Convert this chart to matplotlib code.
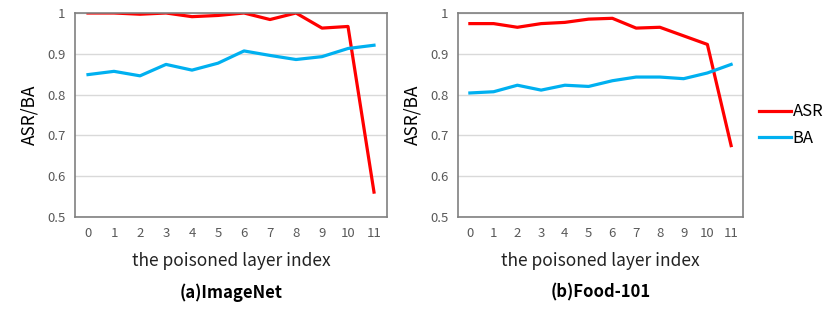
import numpy as np
import matplotlib
matplotlib.use("Agg")
import matplotlib.pyplot as plt

plt.rcParams['font.family'] = ['Noto Sans CJK SC', 'DejaVu Sans']

layers = list(range(12))
layer_labels = [str(i) for i in layers]

asr_imagenet = [1.0, 1.0, 0.997, 1.0, 0.991, 0.994, 1.0, 0.984, 1.0, 0.963, 0.967, 0.561]
ba_imagenet  = [0.849, 0.857, 0.846, 0.874, 0.860, 0.877, 0.907, 0.896, 0.886, 0.893, 0.913, 0.921]

asr_food = [0.974, 0.974, 0.965, 0.974, 0.977, 0.985, 0.987, 0.963, 0.965, 0.944, 0.923, 0.675]
ba_food  = [0.804, 0.807, 0.823, 0.811, 0.823, 0.820, 0.834, 0.843, 0.843, 0.839, 0.853, 0.874]

yticks = [0.5, 0.6, 0.7, 0.8, 0.9, 1.0]
ytick_labels = ["0.5", "0.6", "0.7", "0.8", "0.9", "1"]

fig = plt.figure(figsize=(8.31, 3.12), dpi=100)
ax1 = fig.add_axes([75/831, 1-217/312, 312/831, 204/312])
ax2 = fig.add_axes([458/831, 1-217/312, 285/831, 204/312])

def draw(ax, asr, ba, title):
    ax.plot(layers, asr, color="#FF0000", lw=2.3, label="ASR", solid_joinstyle="round")
    ax.plot(layers, ba, color="#00B0F0", lw=2.3, label="BA", solid_joinstyle="round")
    ax.set_xlim(-0.5, 11.5)
    ax.set_ylim(0.5, 1.0)
    ax.set_xticks(layers)
    ax.set_xticklabels(layer_labels)
    ax.set_yticks(yticks)
    ax.set_yticklabels(ytick_labels)
    ax.grid(axis="y", color="#D9D9D9", lw=1)
    ax.set_axisbelow(True)
    for s in ax.spines.values():
        s.set_color("#808080")
        s.set_linewidth(1.2)
    ax.tick_params(length=0, labelsize=9.5, colors="#595959", pad=7)
    ax.set_ylabel("ASR/BA", fontsize=12.5, color="#000000", labelpad=6)
    ax.set_xlabel("the poisoned layer index", fontsize=12.5, color="#222222", labelpad=9)
    ax.text(0.5, -0.37, title, transform=ax.transAxes, ha="center", va="center",
            fontsize=12, fontweight="bold")

draw(ax1, asr_imagenet, ba_imagenet, "(a)ImageNet")
draw(ax2, asr_food, ba_food, "(b)Food-101")

h, l = ax2.get_legend_handles_labels()
fig.legend(h, l, loc="center left", bbox_to_anchor=(756/831, 1-125/312), frameon=False,
           fontsize=12, handlelength=1.9, handletextpad=0.1, labelspacing=0.55,
           borderaxespad=0, borderpad=0.2)

fig.savefig("out.png", dpi=100)
